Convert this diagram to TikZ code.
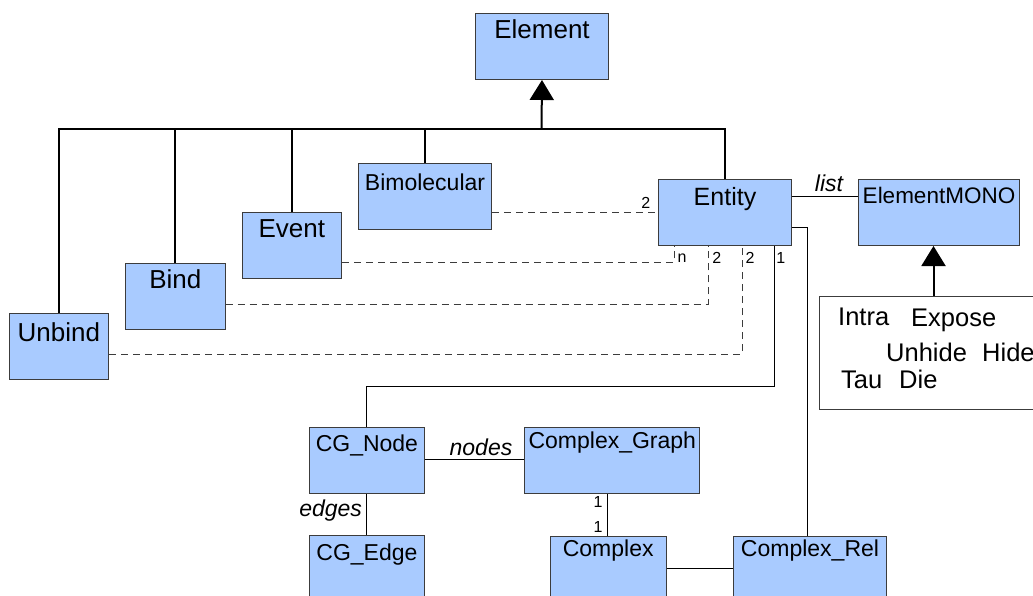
\documentclass[tikz,border=0pt]{standalone}
\usepackage{fontspec}
\setmainfont{Liberation Sans}
\usetikzlibrary{arrows.meta,calc}
\definecolor{classfill}{RGB}{169,203,255}
\definecolor{framegray}{RGB}{60,60,60}
\newcommand{\fsz}[1]{\fontsize{#1}{#1}\selectfont}
\tikzset{
  classbox/.style={draw=framegray, line width=1pt, fill=classfill, inner sep=0pt, anchor=north west},
  actionbox/.style={draw=framegray, line width=1pt, fill=white, inner sep=0pt, anchor=north west},
  title/.style={anchor=base, inner sep=0pt},
  gen/.style={line width=2pt, black},
  genhead/.style={gen, -{Triangle[length=20pt,width=24pt]}},
  assoc/.style={line width=1pt, black},
  dep/.style={line width=1pt, framegray, dash pattern=on 7pt off 5pt},
  mult/.style={font=\fsz{16}, inner sep=0pt},
  role/.style={font=\fsz{23}\itshape, inner sep=0pt, anchor=base},
}
\begin{document}
\begin{tikzpicture}[x=1pt, y=-1pt]
\useasboundingbox (0,0) rectangle (1033,595);
\clip (0,0) rectangle (1033,595);

% class boxes
\node[classbox, minimum width=133pt, minimum height=66pt] (element) at (475,13) {};
\node[classbox, minimum width=133pt, minimum height=66pt] (bimolecular) at (358,163) {};
\node[classbox, minimum width=99.4pt, minimum height=66pt] (event) at (241.6,212.3) {};
\node[classbox, minimum width=99.6pt, minimum height=66pt] (bind) at (125,263) {};
\node[classbox, minimum width=99.3pt, minimum height=66pt] (unbind) at (8.7,313) {};
\node[classbox, minimum width=133pt, minimum height=66pt] (entity) at (658,179) {};
\node[classbox, minimum width=161pt, minimum height=66pt] (elementmono) at (858,179) {};
\node[classbox, minimum width=115.8pt, minimum height=66pt] (cgnode) at (308.5,427) {};
\node[classbox, minimum width=175pt, minimum height=66pt] (complexgraph) at (524.3,427) {};
\node[classbox, minimum width=115.8pt, minimum height=70pt] (cgedge) at (308.5,535.3) {};
\node[classbox, minimum width=116pt, minimum height=70pt] (complex) at (549.7,535.7) {};
\node[classbox, minimum width=153.6pt, minimum height=70pt] (complexrel) at (732.7,535.7) {};
\node[actionbox, minimum width=230pt, minimum height=113pt] (actions) at (819,296) {};

% class names
\node[title, font=\fsz{26}] (element-t) at ($(element.north)+(0,25)$) {Element};
\node[title, font=\fsz{23}] (bimolecular-t) at ($(bimolecular.north)+(0,27)$) {Bimolecular};
\node[title, font=\fsz{26}] (event-t) at ($(event.north)+(0,25)$) {Event};
\node[title, font=\fsz{26}] (bind-t) at ($(bind.north)+(0,25.3)$) {Bind};
\node[title, font=\fsz{26}] (unbind-t) at ($(unbind.north)+(0,28.7)$) {Unbind};
\node[title, font=\fsz{25}] (entity-t) at ($(entity.north)+(0,26)$) {Entity};
\node[title, font=\fsz{22.5}] (elementmono-t) at ($(elementmono.north)+(0,24)$) {ElementMONO};
\node[title, font=\fsz{23}] (cgnode-t) at ($(cgnode.north)+(0,24.7)$) {CG\_Node};
\node[title, font=\fsz{23}] (complexgraph-t) at ($(complexgraph.north)+(0,21.3)$) {Complex\_Graph};
\node[title, font=\fsz{23}] (cgedge-t) at ($(cgedge.north)+(0,24.7)$) {CG\_Edge};
\node[title, font=\fsz{23}] (complex-t) at ($(complex.north)+(0,21)$) {Complex};
\node[title, font=\fsz{23}] (complexrel-t) at ($(complexrel.north)+(0,21)$) {Complex\_Rel};

% action names
\begin{scope}[every node/.style={anchor=base west, inner sep=0pt, font=\fsz{25.5}}]
\node (a-intra) at (838,325) {Intra};
\node (a-expose) at (911,326.7) {Expose};
\node (a-unhide) at (886,361.7) {Unhide};
\node (a-hide) at (982,361.7) {Hide};
\node (a-tau) at (841,388.3) {Tau};
\node (a-die) at (899,388.3) {Die};
\end{scope}

% generalisation tree
\coordinate (bus) at (541.5,129);
\draw[gen] (unbind.north) |- (bus) -| (entity.north);
\draw[gen] (bind.north) -- (bind.north |- bus);
\draw[gen] (event.north) -- (event.north |- bus);
\draw[gen] (bimolecular.north) -- (bimolecular.north |- bus);
\draw[genhead] (bus) -- (element.south);
\coordinate (monoarrow) at ([xshift=-5.5pt]elementmono.south);
\draw[genhead] (monoarrow |- actions.north) -- (monoarrow);

% dependencies on Entity
\coordinate (d1) at ([yshift=-49pt]bimolecular.north east);
\draw[dep] (d1) -- (d1 -| entity.west);
\node[mult] (m-bimol) at (645.7,202.7) {2};

\coordinate (d2) at ([yshift=-50pt]event.north east);
\coordinate (e2) at ([xshift=16pt]entity.south west);
\draw[dep] (d2) -- (d2 -| e2) -- (e2);
\node[mult] (m-event) at (682,258) {n};

\coordinate (d3) at ([yshift=-41pt]bind.north east);
\coordinate (e3) at ([xshift=50pt]entity.south west);
\draw[dep] (d3) -- (d3 -| e3) -- (e3);
\node[mult] (m-bind) at (716.7,258) {2};

\coordinate (d4) at ([yshift=-41pt]unbind.north east);
\coordinate (e4) at ([xshift=84pt]entity.south west);
\draw[dep] (d4) -- (d4 -| e4) -- (e4);
\node[mult] (m-unbind) at (750,258) {2};

% associations
\coordinate (e5) at ([xshift=116pt]entity.south west);
\coordinate (t5) at ([yshift=-140pt]e5);
\draw[assoc] (e5) -- (t5) -| (cgnode.north);
\node[mult] (m-cg) at (780.7,258) {1};

\coordinate (e6) at ([yshift=-48pt]entity.north east);
\coordinate (r6) at ([xshift=74.3pt]complexrel.north west);
\draw[assoc] (e6) -| (r6);

\coordinate (e7) at ([yshift=-17pt]entity.north east);
\draw[assoc] (e7) -- (e7 -| elementmono.west);
\node[role] (r-list) at (829,191) {list};

\coordinate (n1) at ([yshift=-32pt]cgnode.north east);
\draw[assoc] (n1) -- (n1 -| complexgraph.west);
\node[role] (r-nodes) at (481,455) {nodes};

\draw[assoc] (cgnode.south) -- (cgedge.north);
\node[role] (r-edges) at (330.6,516.7) {edges};

\coordinate (g1) at ([xshift=83pt]complexgraph.south west);
\draw[assoc] (g1) -- (g1 |- complex.north);
\node[mult] (m-cg1) at (598,502) {1};
\node[mult] (m-cg2) at (598,527) {1};

\coordinate (c1) at ([yshift=-32.3pt]complex.north east);
\draw[assoc] (c1) -- (c1 -| complexrel.west);
\end{tikzpicture}
\end{document}
